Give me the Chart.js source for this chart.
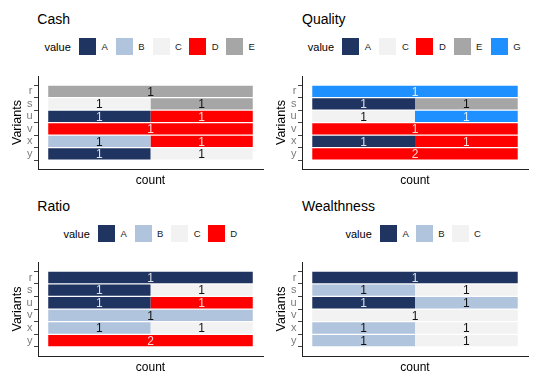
<!DOCTYPE html>
<html>
<head>
<meta charset="utf-8">
<script src="https://cdn.jsdelivr.net/npm/chart.js@4"></script>
<style>
  body { margin: 0; background: #fff; font-family: "Liberation Sans", Arial, sans-serif; }
  #page { position: relative; width: 540px; height: 386px; overflow: hidden; }
  .title { position: absolute; font-size: 14px; line-height: 14px; color: #000; white-space: nowrap; }
  .legend { position: absolute; display: flex; align-items: center; height: 17px; white-space: nowrap; }
  .legend .lt { width: 34.5px; flex: none; font-size: 11px; color: #000; }
  .legend .key { width: 17px; height: 17px; flex: none; }
  .legend .lab { margin-left: 5.5px; flex: none; font-size: 9.5px; color: #1a1a1a; }
  canvas { position: absolute; }
</style>
</head>
<body>
<div id="page"></div>
<script>
const variants = ["r", "s", "u", "v", "x", "y"];

// counts per level, rows in the order of variants
const cashLevels = ["A", "B", "C", "D", "E"];
const cashA = [0, 0, 1, 0, 0, 1];
const cashB = [0, 0, 0, 0, 1, 0];
const cashC = [0, 1, 0, 0, 0, 1];
const cashD = [0, 0, 1, 1, 1, 0];
const cashE = [1, 1, 0, 0, 0, 0];

const qualityLevels = ["A", "C", "D", "E", "G"];
const qualityA = [0, 1, 0, 0, 1, 0];
const qualityC = [0, 0, 1, 0, 0, 0];
const qualityD = [0, 0, 0, 1, 1, 2];
const qualityE = [0, 1, 0, 0, 0, 0];
const qualityG = [1, 0, 1, 0, 0, 0];

const ratioLevels = ["A", "B", "C", "D"];
const ratioA = [1, 1, 1, 0, 0, 0];
const ratioB = [0, 0, 0, 1, 1, 0];
const ratioC = [0, 1, 0, 0, 1, 0];
const ratioD = [0, 0, 1, 0, 0, 2];

const wealthLevels = ["A", "B", "C"];
const wealthA = [1, 0, 1, 0, 0, 0];
const wealthB = [0, 1, 1, 0, 1, 1];
const wealthC = [0, 1, 0, 1, 1, 1];

const levelColors = { A: "#1F3461", B: "#B0C4DE", C: "#F2F2F2", D: "#FF0000", E: "#A6A6A6", G: "#1E90FF" };
const darkLevels = ["A", "D", "G"];

const FONT = '"Liberation Sans", Arial, sans-serif';
Chart.defaults.font.family = FONT;

const panels = [
  { title: "Cash", levels: cashLevels, counts: [cashA, cashB, cashC, cashD, cashE],
    left: 0, top: 68, width: 270, height: 122, padRight: 7, yAxisW: 38, varPad: 10.5,
    titleX: 37.3, titleTop: 11.5, legendX: 44.5, legendTop: 38, pitch: 36.75 },
  { title: "Quality", levels: qualityLevels, counts: [qualityA, qualityC, qualityD, qualityE, qualityG],
    left: 270, top: 68, width: 270, height: 122, padRight: 12, yAxisW: 32, varPad: 4.5,
    titleX: 302, titleTop: 11.5, legendX: 307.8, legendTop: 38, pitch: 37.1 },
  { title: "Ratio", levels: ratioLevels, counts: [ratioA, ratioB, ratioC, ratioD],
    left: 0, top: 254, width: 270, height: 123, padRight: 7, yAxisW: 38, varPad: 10.5,
    titleX: 37.3, titleTop: 198.5, legendX: 63.5, legendTop: 225.3, pitch: 36.6 },
  { title: "Wealthness", levels: wealthLevels, counts: [wealthA, wealthB, wealthC],
    left: 270, top: 254, width: 270, height: 123, padRight: 12, yAxisW: 32, varPad: 4.5,
    titleX: 302, titleTop: 198.5, legendX: 345.5, legendTop: 225.3, pitch: 35.8 }
];

const countLabels = {
  id: "countLabels",
  afterDatasetsDraw(chart) {
    const ctx = chart.ctx;
    ctx.save();
    ctx.font = "12px " + FONT;
    ctx.textAlign = "center";
    ctx.textBaseline = "middle";
    chart.data.datasets.forEach((ds, k) => {
      const meta = chart.getDatasetMeta(k);
      meta.data.forEach((bar, j) => {
        const c = bar.getCenterPoint();
        ctx.fillStyle = darkLevels.includes(ds.label) ? "rgba(255,255,255,0.85)" : "#111";
        ctx.fillText(ds.data[j].n, c.x, c.y + 1);
      });
    });
    ctx.restore();
  }
};

function buildPanel(p) {
  const page = document.getElementById("page");

  const t = document.createElement("div");
  t.className = "title";
  t.textContent = p.title;
  t.style.left = p.titleX + "px";
  t.style.top = p.titleTop + "px";
  page.appendChild(t);

  const lg = document.createElement("div");
  lg.className = "legend";
  lg.style.left = p.legendX + "px";
  lg.style.top = p.legendTop + "px";
  let html = '<span class="lt">value</span>';
  p.levels.forEach((lev) => {
    html += '<span class="key" style="background:' + levelColors[lev] + '"></span>' +
      '<span class="lab" style="width:' + (p.pitch - 17 - 5.5) + 'px">' + lev + '</span>';
  });
  lg.innerHTML = html;
  page.appendChild(lg);

  const cv = document.createElement("canvas");
  cv.width = p.width;
  cv.height = p.height;
  cv.style.left = p.left + "px";
  cv.style.top = p.top + "px";
  page.appendChild(cv);

  const totals = variants.map((v, i) => p.counts.reduce((s, arr) => s + arr[i], 0));
  const datasets = p.levels.map((lev, k) => ({
    label: lev,
    data: variants
      .map((v, i) => ({ y: i + 1, x: p.counts[k][i] / totals[i], n: p.counts[k][i] }))
      .filter((d) => d.n > 0),
    backgroundColor: levelColors[lev],
    borderWidth: 0,
    barPercentage: 0.9,
    categoryPercentage: 1
  }));

  new Chart(cv, {
    type: "bar",
    data: { datasets: datasets },
    plugins: [countLabels],
    options: {
      indexAxis: "y",
      responsive: false,
      animation: false,
      layout: { padding: { top: 6, right: p.padRight, left: 0, bottom: 0 } },
      plugins: { legend: { display: false }, tooltip: { enabled: false } },
      scales: {
        x: {
          type: "linear", stacked: true, min: -0.05, max: 1.05,
          ticks: { display: false },
          grid: { display: true, drawOnChartArea: false, drawTicks: false },
          border: { display: true, color: "#222", width: 1 },
          title: { display: true, text: "count", color: "#000", font: { size: 12 }, padding: { top: 0, bottom: 1.8 } },
          afterFit: (s) => { s.height = 21; }
        },
        y: {
          type: "linear", stacked: true, reverse: true, min: 0.4, max: 6.6,
          afterBuildTicks: (s) => { s.ticks = variants.map((v, i) => ({ value: i + 1 })); },
          afterFit: (s) => { s.width = p.yAxisW; },
          ticks: { autoSkip: false, padding: 1.5, color: "#7A7A7A", font: { size: 11 },
            callback: (val) => variants[val - 1] },
          grid: { display: true, drawOnChartArea: false, drawTicks: true, tickLength: 4, color: "#444", tickColor: "#444" },
          border: { display: true, color: "#222", width: 1 },
          title: { display: true, text: "Variants", color: "#000", font: { size: 12.5 }, padding: { top: p.varPad, bottom: 0 } }
        }
      }
    }
  });
}

panels.forEach(buildPanel);
</script>
</body>
</html>
